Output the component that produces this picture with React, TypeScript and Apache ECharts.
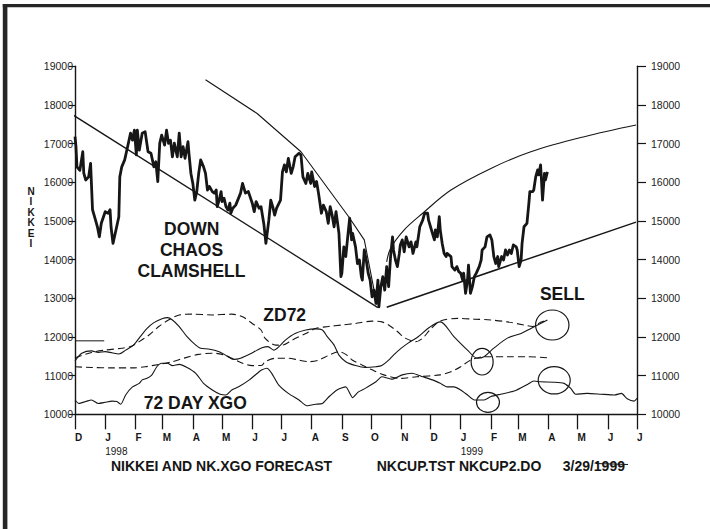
import React, { useEffect, useRef } from "react";
import * as echarts from "echarts";

// x values are calendar days counted from 1 Dec 1997
const BASE = Date.UTC(1997, 11, 1);
const END = Date.UTC(1999, 6, 1);
const DAY = 86400000;

const yTicks = { min: 10000, max: 19000, step: 1000 };
const monthLetters = ["J", "F", "M", "A", "M", "J", "J", "A", "S", "O", "N", "D"];

const nikkei: [number, number][] = [
  [0,17180],[1,16920],[2,16400],[5,16310],[8,16790],[9,16240],[11,16060],[14,16140],[16,16490],[18,15290],[21,15030],[23,14850],[25,14590],[27,14940],[31,15240],[34,15200],[36,15290],[37,14850],[39,14420],[42,14760],[45,15110],[46,16140],[48,16400],[51,16580],[54,16920],[57,17270],[59,17090],[61,17350],[63,16710],[64,17350],[66,16830],[69,17270],[72,17310],[75,16790],[78,16750],[81,16400],[83,16530],[85,16020],[87,17010],[89,17220],[92,16960],[94,17350],[96,17010],[98,17090],[100,16660],[102,17010],[105,16660],[107,17270],[109,16660],[111,16920],[113,16620],[116,17050],[117,16750],[119,16230],[121,15970],[123,15540],[125,15760],[127,16230],[129,16580],[132,16400],[134,16230],[136,15800],[138,15890],[141,15760],[143,15720],[145,15800],[146,15370],[148,15540],[150,15760],[151,15500],[153,15590],[155,15370],[157,15280],[159,15460],[160,15200],[162,15330],[165,15410],[170,15720],[172,15970],[175,15720],[178,15760],[182,15460],[184,15240],[186,15500],[189,15330],[191,15370],[194,14900],[196,14420],[199,15020],[201,15540],[203,15370],[205,15150],[207,15330],[211,15540],[213,16270],[215,16450],[217,16270],[219,16620],[222,16230],[224,16400],[226,16660],[230,16750],[232,16710],[234,16140],[237,15970],[239,16230],[242,15970],[243,16270],[246,15890],[248,16020],[250,15720],[253,15200],[255,15410],[258,15240],[260,14940],[262,15370],[264,15150],[266,14850],[268,15240],[271,14680],[273,13560],[274,13650],[276,14330],[278,14080],[280,14590],[282,15070],[284,14510],[285,14680],[288,14330],[290,13900],[292,13990],[294,13560],[295,13470],[297,14250],[299,13990],[301,13650],[303,13470],[305,13040],[307,13210],[309,12870],[311,13470],[312,12780],[314,13300],[316,13560],[318,13210],[320,13820],[322,13300],[324,14080],[326,14590],[327,14250],[329,13990],[331,13820],[333,14160],[334,14380],[336,14510],[338,14200],[340,14590],[343,14330],[345,14460],[347,14160],[350,14460],[351,14330],[354,14850],[357,15020],[359,15200],[362,15200],[363,15020],[365,14850],[367,14680],[369,14510],[370,14770],[372,14590],[374,15110],[375,14770],[377,14420],[379,14160],[381,14080],[382,14160],[386,14080],[387,13820],[390,13730],[392,13820],[394,13690],[396,13650],[398,13470],[399,13650],[401,13130],[403,13470],[404,13860],[406,13130],[408,13300],[410,13560],[412,13650],[415,13820],[417,13990],[418,14250],[421,14330],[423,14590],[426,14640],[428,14510],[430,14080],[432,13900],[434,14080],[435,13820],[438,14080],[440,13990],[442,14250],[444,14120],[446,14250],[448,14160],[450,14380],[453,14330],[454,14250],[456,13820],[458,13990],[459,14420],[461,14850],[464,14940],[466,15460],[467,15760],[470,15760],[471,15800],[473,16140],[475,16320],[476,16190],[478,16450],[479,16020],[480,15540],[482,16230],[483,16060],[485,16270]
];

const downTrend: [number, number][] = [[-4.5, 17780], [311, 12760]];
const downCurve: [number, number][] = [[134,18650],[187,17780],[232,16790],[281,15110],[297,14510],[310,12830]];
const upCurve: [number, number][] = [[320,13940],[324,14290],[338,14770],[357,15200],[386,15800],[427,16360],[468,16790],[523,17180],[576,17480]];
const upTrend: [number, number][] = [[320,12770],[576,14970]];
const levelMark: [number, number][] = [[0,11900],[30,11900]];

const zdSolid: [number, number][] = [
  [0,11380],[7,11580],[17,11640],[24,11600],[31,11620],[38,11590],[45,11560],[52,11660],[60,11790],[67,12010],[74,12220],[81,12370],[90,12480],[95,12500],[100,12440],[107,12270],[115,12010],[124,11790],[129,11710],[137,11690],[148,11620],[156,11510],[163,11420],[170,11450],[179,11550],[187,11660],[192,11720],[198,11750],[204,11660],[211,11790],[216,11920],[226,12090],[237,12180],[247,12210],[254,12180],[259,12010],[266,11790],[271,11530],[278,11360],[288,11260],[298,11210],[309,11230],[315,11260],[322,11400],[327,11530],[335,11710],[342,11840],[352,12000],[364,12250],[375,12390],[389,12010],[403,11660],[413,11450],[420,11490],[430,11710],[444,11970],[458,12090],[468,12220],[478,12350],[485,12440]
];
const zdDashed: [number, number][] = [
  [0,11460],[17,11600],[31,11660],[48,11710],[57,11750],[66,11880],[76,12050],[86,12270],[96,12440],[107,12570],[120,12590],[141,12570],[161,12590],[172,12520],[182,12350],[191,12180],[195,11970],[206,11790],[213,11790],[223,11920],[237,12090],[247,12220],[260,12270],[274,12310],[288,12350],[305,12410],[315,12390],[322,12310],[331,12140],[339,11970],[350,11880],[357,11970],[365,12200],[375,12410],[393,12480],[410,12460],[427,12440],[444,12390],[461,12310],[470,12270],[478,12380],[485,12440]
];
const xgoDashed: [number, number][] = [
  [0,11230],[17,11210],[38,11200],[59,11200],[72,11230],[86,11290],[100,11360],[113,11460],[127,11550],[141,11580],[151,11550],[161,11450],[172,11320],[182,11260],[192,11270],[195,11360],[206,11450],[219,11450],[230,11400],[240,11360],[250,11400],[261,11530],[271,11620],[278,11550],[285,11400],[295,11270],[305,11150],[317,11020],[334,10930],[351,10970],[375,11020],[386,11100],[396,11230],[406,11400],[420,11490],[444,11490],[465,11490],[485,11460]
];
const xgoSolid: [number, number][] = [
  [0,10370],[4,10280],[11,10330],[17,10370],[24,10280],[31,10310],[38,10340],[43,10330],[47,10260],[52,10500],[59,10710],[66,10800],[69,10890],[74,10930],[79,11020],[84,11230],[89,11320],[95,11320],[100,11260],[107,11290],[115,11210],[124,11060],[132,10800],[141,10630],[149,10520],[155,10500],[161,10630],[168,10710],[179,10890],[189,11100],[192,11150],[197,11190],[202,11060],[209,10760],[219,10540],[230,10370],[238,10220],[247,10260],[254,10280],[261,10460],[269,10630],[278,10710],[285,10430],[291,10580],[298,10670],[309,10840],[315,10970],[326,10910],[336,11020],[346,11060],[357,10970],[367,10890],[375,10800],[382,10710],[389,10710],[396,10630],[403,10500],[410,10370],[420,10370],[427,10460],[437,10520],[451,10600],[465,10780],[471,10860],[478,10840],[492,10830],[502,10800],[509,10670],[514,10520],[526,10540],[540,10520],[554,10500],[561,10540],[567,10400],[574,10340],[577,10410]
];

// annotation circles: centre in data coordinates (day, value)
const circleCentres: [number, number][] = [[490,12310],[418,11360],[492,10880],[424,10310]];
const circleRadii: [number, number][] = [[16.7,15],[11,13.3],[16,13.7],[11.5,10]];

const FONT = '"Liberation Sans", Arial, sans-serif';
const INK = "#161616";

const toTs = (pts: [number, number][]) => pts.map(([d, v]) => [BASE + d * DAY, v]);

function lineSeries(pts: [number, number][], width: number, dashed = false, extra: any = {}) {
  return {
    type: "line",
    data: toTs(pts),
    symbol: "none",
    showSymbol: false,
    silent: true,
    lineStyle: { color: INK, width, type: dashed ? [7, 4] : "solid", join: "round" },
    ...extra,
  };
}

export default function App() {
  const ref = useRef<HTMLDivElement>(null);
  useEffect(() => {
    if (!ref.current) return;
    const chart = echarts.init(ref.current, null, { renderer: "svg" });
    const yAxisBase = {
      type: "value",
      min: yTicks.min,
      max: yTicks.max,
      interval: yTicks.step,
      splitLine: { show: false },
      axisLine: { show: true, lineStyle: { color: INK, width: 1.4 } },
    };
    const yLabel = (v: number) => String(v);
    chart.setOption({
      animation: false,
      useUTC: true,
      backgroundColor: "#fff",
      grid: { left: 75, right: 73, top: 66.3, bottom: 114.7, containLabel: false },
      xAxis: {
        type: "time",
        min: BASE,
        max: END,
        splitNumber: 19,
        minInterval: 28 * DAY,
        maxInterval: 31 * DAY,
        axisLine: { show: true, onZero: false, lineStyle: { color: INK, width: 1.4 } },
        axisTick: { show: true, length: 15, lineStyle: { color: INK, width: 1.3 } },
        splitLine: { show: false },
        axisLabel: {
          showMinLabel: true,
          showMaxLabel: true,
          hideOverlap: false,
          align: "left",
          margin: 17.5,
          color: INK,
          formatter: (val: number) => {
            const dt = new Date(val);
            const m = dt.getUTCMonth();
            const letter = monthLetters[m];
            if (m === 0) return `{m|${letter}}\n{y|${dt.getUTCFullYear()}}`;
            return `{m|${letter}}`;
          },
          rich: {
            m: { fontFamily: FONT, fontWeight: "bold", fontSize: 10, lineHeight: 12, color: INK, align: "left" },
            y: { fontFamily: FONT, fontSize: 10, lineHeight: 14.6, color: INK, align: "left" },
          },
        },
      },
      yAxis: [
        {
          ...yAxisBase,
          position: "left",
          axisTick: { show: true, length: 6, lineStyle: { color: INK, width: 1.2 } },
          axisLabel: { margin: 2, fontFamily: FONT, fontSize: 10.5, color: "#222", formatter: yLabel },
        },
        {
          ...yAxisBase,
          position: "right",
          axisTick: { show: true, length: 9, lineStyle: { color: INK, width: 1.2 } },
          axisLabel: { margin: 14, fontFamily: FONT, fontSize: 10.5, color: "#222", formatter: yLabel },
        },
      ],
      series: [
        lineSeries(nikkei, 2.8),
        lineSeries(downTrend, 1.3, false, { clip: false }),
        lineSeries(downCurve, 1.1),
        lineSeries(upCurve, 1.1, false, { smooth: 0.35 }),
        lineSeries(upTrend, 1.5),
        lineSeries(levelMark, 1),
        lineSeries(zdSolid, 1.1, false, { smooth: 0.3 }),
        lineSeries(zdDashed, 1.1, true, { smooth: 0.3 }),
        lineSeries(xgoDashed, 1.1, true, { smooth: 0.3 }),
        lineSeries(xgoSolid, 1.1, false, { smooth: 0.2 }),
      ],
    });

    const txt = (text: string, x: number, y: number, size: number, bold: boolean, align = "center", extra: any = {}) => ({
      type: "text",
      x,
      y,
      silent: true,
      style: {
        text,
        font: `${bold ? "bold " : ""}${size}px ${FONT}`,
        fill: INK,
        align,
        textAlign: align,
        verticalAlign: "middle",
        textVerticalAlign: "middle",
        ...extra,
      },
    });

    const ellipses = circleCentres.map(([d, v], i) => {
      const p = chart.convertToPixel({ xAxisIndex: 0, yAxisIndex: 0 }, [BASE + d * DAY, v]) as number[];
      return {
        type: "ellipse",
        silent: true,
        shape: { cx: p[0], cy: p[1], rx: circleRadii[i][0], ry: circleRadii[i][1] },
        style: { fill: "none", stroke: INK, lineWidth: 1.2 },
      };
    });

    chart.setOption({
      graphic: [
        { type: "rect", silent: true, shape: { x: 2.8, y: 4, width: 4.6, height: 525 }, style: { fill: "#262626" } },
        { type: "rect", silent: true, shape: { x: 2.8, y: 4, width: 707.2, height: 3.3 }, style: { fill: "#262626" } },
        { type: "rect", silent: true, shape: { x: 636.4, y: 118, width: 2.4, height: 11.5 }, style: { fill: "#fff" } },
        txt("N\nI\nK\nK\nE\nI", 31, 217.5, 10, true, "center", { lineHeight: 10.4 }),
        txt("DOWN", 191.7, 228.8, 17.5, true),
        txt("CHAOS", 191.5, 250, 17.5, true),
        txt("CLAMSHELL", 191.5, 270.8, 17.5, true),
        txt("ZD72", 284.7, 315, 17.5, true),
        txt("72 DAY XGO", 195.3, 402.7, 17.5, true),
        txt("SELL", 562.3, 294.3, 17.5, true),
        txt("NIKKEI AND NK.XGO FORECAST", 111, 466, 14, true, "left"),
        txt("NKCUP.TST NKCUP2.DO", 376.7, 466, 14, true, "left"),
        txt("3/29/1999", 562.7, 466, 14, true, "left"),
        { type: "line", silent: true, shape: { x1: 596, y1: 463.5, x2: 628, y2: 464.5 }, style: { stroke: INK, lineWidth: 1.2 } },
        ...ellipses,
      ],
    });

    return () => chart.dispose();
  }, []);
  return (
    <div
      ref={ref}
      style={{ position: "fixed", left: 0, top: 0, width: 710, height: 529, background: "#fff" }}
    />
  );
}
